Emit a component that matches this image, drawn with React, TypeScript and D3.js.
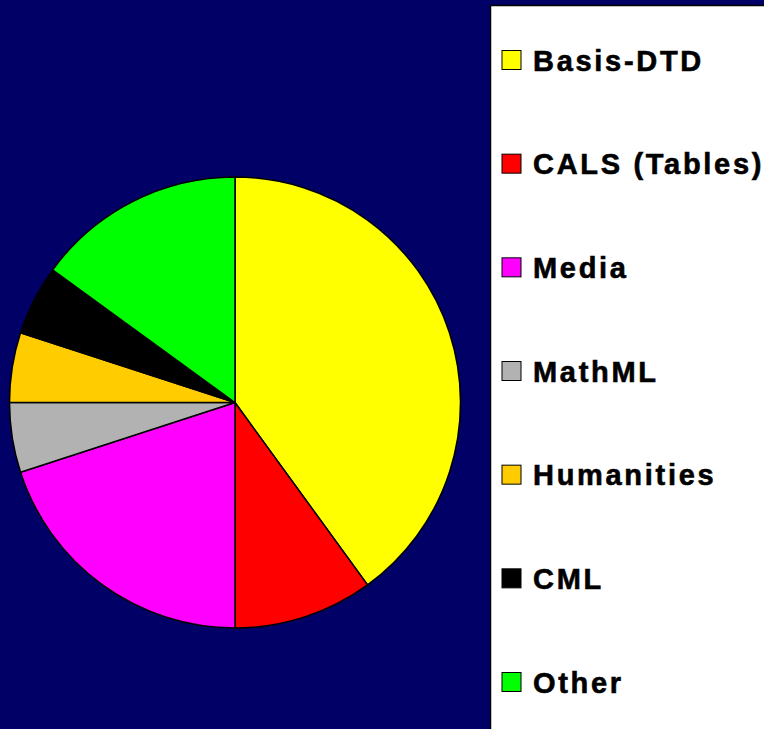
import React from "react";
import * as d3 from "d3";

const categories = ["Basis-DTD", "CALS (Tables)", "Media", "MathML", "Humanities", "CML", "Other"];
const values = [40, 10, 20, 5, 5, 5, 15];
const colors = ["#FFFF00", "#FF0000", "#FF00FF", "#B2B2B2", "#FFCC00", "#000000", "#00FF00"];

const W = 764;
const H = 729;

export default function App() {
  const cx = 235;
  const cy = 402.5;
  const r = 225.5;
  const pie = d3.pie<number>().sort(null).startAngle(0).endAngle(2 * Math.PI);
  const arcs = pie(values);
  const arc = d3.arc<d3.PieArcDatum<number>>().innerRadius(0).outerRadius(r);
  const legendY = d3.scalePoint<string>().domain(categories).range([60, 682]);

  return (
    <svg width={W} height={H} style={{ position: "absolute", left: 0, top: 0, display: "block" }}>
      <rect x={0} y={0} width={W} height={H} fill="#000066" />
      <g transform={`translate(${cx},${cy})`}>
        {arcs.map((a, i) => (
          <path key={i} d={arc(a) || ""} fill={colors[i]} stroke="#000" strokeWidth={1.5} strokeLinejoin="round" />
        ))}
      </g>
      <rect x={490.5} y={5.5} width={W} height={H} fill="#FFFFFF" stroke="#000" strokeWidth={1.5} />
      {categories.map((c, i) => {
        const y = legendY(c) as number;
        return (
          <g key={c}>
            <rect x={502} y={y - 9.5} width={19} height={19} fill={colors[i]} stroke="#000" strokeWidth={1} />
            <text
              x={533}
              y={y + 10.5}
              fontFamily="'Liberation Sans', Arial, sans-serif"
              fontWeight="bold"
              fontSize={29}
              letterSpacing={2.7}
              fill="#000"
              stroke="#000"
              strokeWidth={0.6}
            >
              {c}
            </text>
          </g>
        );
      })}
    </svg>
  );
}
